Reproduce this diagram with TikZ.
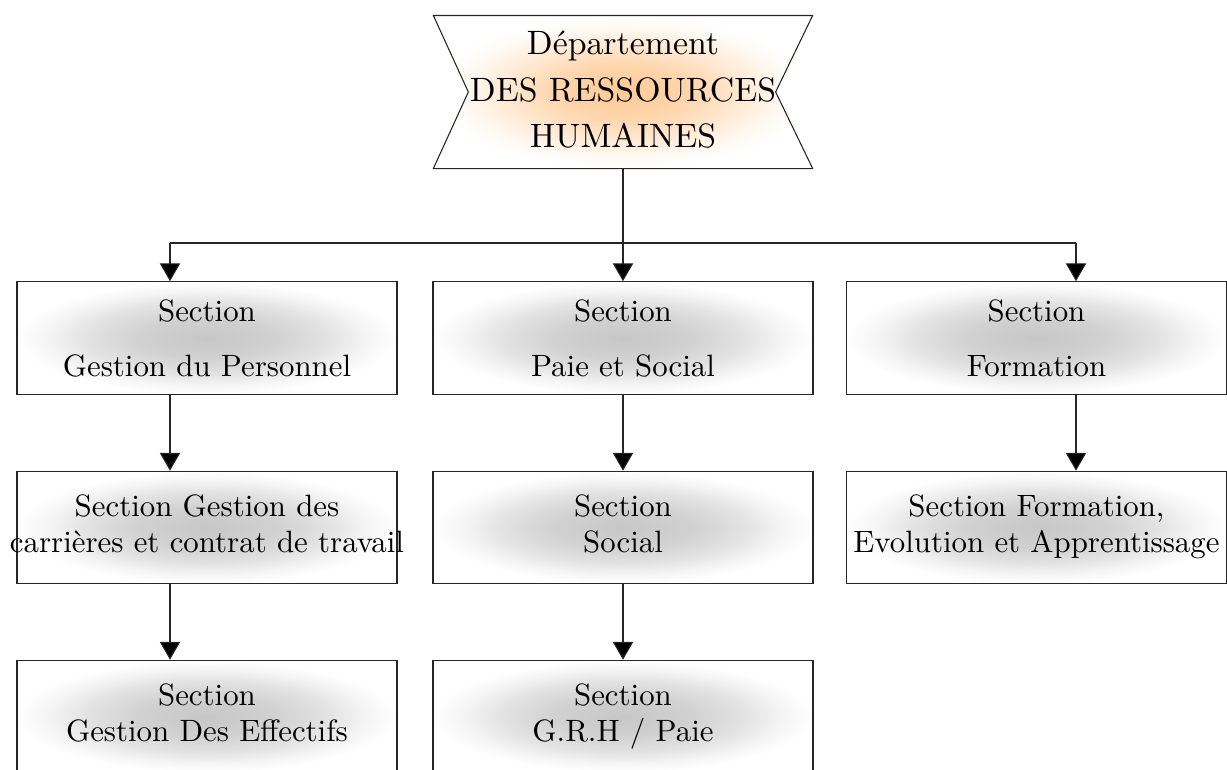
\documentclass[tikz,border=0pt]{standalone}
\usetikzlibrary{arrows.meta,calc,backgrounds}

% soft glows used behind the texts
\pgfdeclareradialshading{secglow}{\pgfpoint{0bp}{0bp}}{color(0bp)=(black!22); color(9bp)=(black!18); color(16bp)=(black!11); color(21bp)=(black!4); color(25bp)=(white); color(50bp)=(white)}
\pgfdeclareradialshading{deptglow}{\pgfpoint{0bp}{0bp}}{color(0bp)=(orange!42); color(9bp)=(orange!32); color(16bp)=(orange!16); color(21bp)=(orange!5); color(25bp)=(white); color(50bp)=(white)}

% centred stack of lines of zero width, so that long lines may overhang the frame
\newcommand\cellstack[3]{\makebox[0pt]{\fontsize{#1}{#2}\selectfont\begin{tabular}{@{}c@{}}#3\end{tabular}}}

\begin{document}
\begin{tikzpicture}[x=0.324pt,y=-0.324pt,
  secbox/.style={draw=black!85, line width=0.35pt, shade, shading=secglow, rectangle,
    minimum width=123.1pt, minimum height=36.45pt, inner sep=0pt},
  arr/.style={draw=black!85, -{Triangle[width=6.6pt,length=5.8pt,fill=black]}, line width=0.35pt},
  link/.style={draw=black!85, line width=0.35pt}]
\useasboundingbox (0,0) rectangle (1227,769);

% department at the head of the chart
\node[minimum width=122.5pt, minimum height=49.2pt, inner sep=0pt] (dept) at (623,92)
  {\cellstack{10.95}{15}{Département\\DES RESSOURCES\\HUMAINES}};
\begin{scope}[on background layer]
  \path[draw=black!85, line width=0.35pt, shade, shading=deptglow]
    (dept.north west) -- (dept.north east) -- ($(dept.east)+(-37,0)$)
    -- (dept.south east) -- (dept.south west) -- ($(dept.west)+(35,0)$) -- cycle;
\end{scope}

% first row of sections
\node[secbox] (s11) at (207,338)    {\cellstack{10}{17.8}{Section\\Gestion du Personnel}};
\node[secbox] (s12) at (623,338)    {\cellstack{10}{17.8}{Section\\Paie et Social}};
\node[secbox] (s13) at (1036.5,338) {\cellstack{10}{17.8}{Section\\Formation}};

% second row
\node[secbox] (s21) at (207,527.5)    {\cellstack{10}{11.5}{Section Gestion des\\carrières et contrat de travail}};
\node[secbox] (s22) at (623,527.5)    {\cellstack{10}{11.5}{Section\\Social}};
\node[secbox] (s23) at (1036.5,527.5) {\cellstack{10}{11.5}{Section Formation,\\Evolution et Apprentissage}};

% third row
\node[secbox] (s31) at (207,716.5) {\cellstack{10}{11.5}{Section\\Gestion Des Effectifs}};
\node[secbox] (s32) at (623,716.5) {\cellstack{10}{11.5}{Section\\G.R.H / Paie}};

% distribution bus below the department
\coordinate (jL) at (170,243);
\coordinate (jR) at (1076,243);
\coordinate (jM) at (dept.south |- jL);
\draw[link] (dept.south) -- (jM);
\draw[link] (jL) -- (jR);
\draw[arr] (jL) -- (jL |- s11.north);
\draw[arr] (jM) -- (s12.north);
\draw[arr] (jR) -- (jR |- s13.north);

% links down the columns
\draw[arr] (jL |- s11.south) -- (jL |- s21.north);
\draw[arr] (s12.south) -- (s22.north);
\draw[arr] (jR |- s13.south) -- (jR |- s23.north);
\draw[arr] (jL |- s21.south) -- (jL |- s31.north);
\draw[arr] (s22.south) -- (s32.north);
\end{tikzpicture}
\end{document}
